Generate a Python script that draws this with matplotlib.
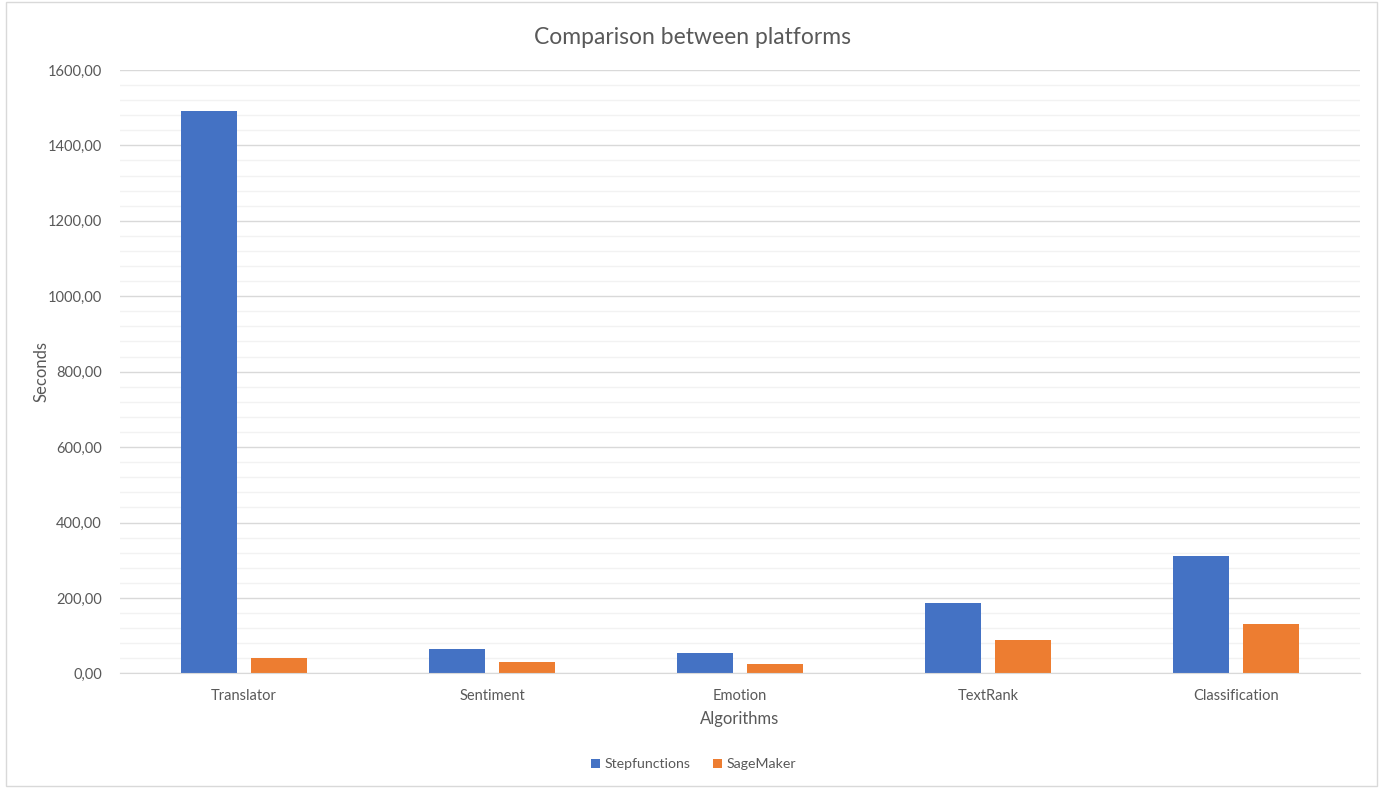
import numpy as np
import matplotlib.pyplot as plt
from matplotlib.ticker import MultipleLocator, FuncFormatter
from matplotlib.patches import Rectangle

# valores (segundos)
algorithms = ["Translator", "Sentiment", "Emotion", "TextRank", "Classification"]
stepfunctions = [1491, 64, 53, 186, 311]
sagemaker = [41, 29, 25, 88, 131]

BLUE = "#4472C4"
ORANGE = "#ED7D31"
TXT = "#595959"

plt.rcParams["font.family"] = ["Lato", "DejaVu Sans"]

fig = plt.figure(figsize=(13.87, 7.88), dpi=100)
fig.patches.append(Rectangle((0.004, 0.003), 0.989, 0.994, transform=fig.transFigure,
                             fill=False, ec="#d9d9d9", lw=1.0))
ax = fig.add_axes([0.0865, 0.1455, 0.894, 0.7657])

x = np.arange(len(algorithms))
w = 0.226
ax.bar(x - 0.142, stepfunctions, w, color=BLUE, label="Stepfunctions", zorder=3)
ax.bar(x + 0.142, sagemaker, w, color=ORANGE, label="SageMaker", zorder=3)

ax.set_xlim(-0.5, len(algorithms) - 0.5)
ax.set_ylim(0, 1600)
ax.yaxis.set_major_locator(MultipleLocator(200))
ax.yaxis.set_minor_locator(MultipleLocator(40))
ax.yaxis.set_major_formatter(FuncFormatter(lambda v, p: f"{v:.2f}".replace(".", ",")))
ax.grid(axis="y", which="major", color="#d9d9d9", lw=1.0, zorder=0)
ax.grid(axis="y", which="minor", color="#f2f2f2", lw=1.0, zorder=0)
ax.set_xticks(x)
ax.set_xticklabels(algorithms)
ax.tick_params(axis="both", which="both", length=0, labelsize=10.5, labelcolor=TXT)
ax.tick_params(axis="y", pad=13)
ax.tick_params(axis="x", pad=11)
for s in ["top", "right", "left"]:
    ax.spines[s].set_visible(False)
ax.spines["bottom"].set_color("#d9d9d9")
ax.spines["bottom"].set_zorder(4)

ax.set_xlabel("Algorithms", fontsize=12, color=TXT, labelpad=6)
ax.set_ylabel("Seconds", fontsize=12, color=TXT, labelpad=-1)
fig.suptitle("Comparison between platforms", x=0.499, y=0.966, fontsize=16.5, color=TXT)

handles, labels = ax.get_legend_handles_labels()
fig.legend(handles, labels, loc="center", bbox_to_anchor=(0.5, 0.03), ncol=2, frameon=False,
           fontsize=10.2, labelcolor=TXT, handlelength=0.65, handleheight=0.65,
           handletextpad=0.3, columnspacing=1.6)

fig.savefig("out.png", dpi=100, facecolor="white")
